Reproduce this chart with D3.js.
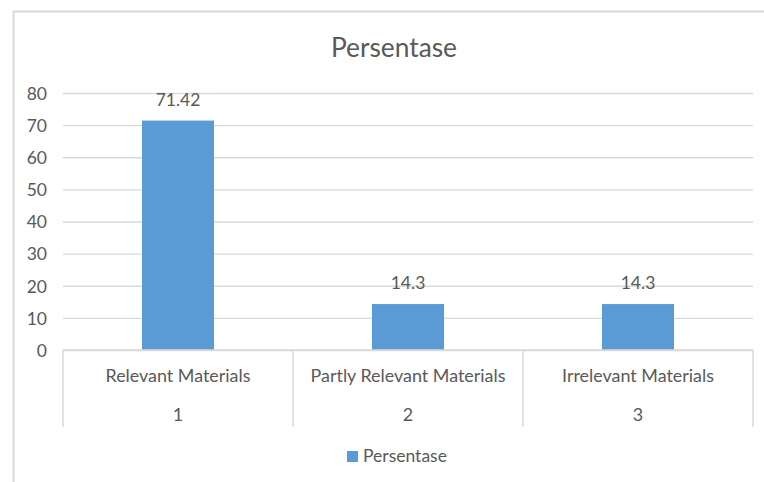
<!DOCTYPE html>
<html><head><meta charset="utf-8">
<script src="https://cdn.jsdelivr.net/npm/d3@7"></script>
<style>body{margin:0;background:#fff}svg{display:block}text{font-family:Lato,"Open Sans",sans-serif;fill:#595959}</style>
</head><body>
<svg id="c" width="764" height="482"></svg>
<script>
const categories = ["Relevant Materials","Partly Relevant Materials","Irrelevant Materials"];
const categoryNumbers = ["1","2","3"];
const values = [71.42, 14.3, 14.3];
const valueLabels = ["71.42","14.3","14.3"];
const yTicks = [0,10,20,30,40,50,60,70,80];
const seriesName = "Persentase";
const title = "Persentase";

const svg = d3.select("#c");
const grid = "#d9d9d9", barColor = "#5b9bd5";
const L = 63, R = 753, T = 93, B = 350;

// border
svg.append("rect").attr("x",13.5).attr("y",11.5).attr("width",800).attr("height",600)
  .attr("fill","none").attr("stroke",grid).attr("stroke-width",2);

const y = d3.scaleLinear().domain([0,80]).range([B,T]);
const x = d3.scaleBand().domain(categories).range([L,R]).padding(0);
const barW = x.bandwidth()*72/230;

function fit(sel, target){
  const n = sel.node(); let fs = parseFloat(sel.attr("font-size"));
  const w = n.getComputedTextLength(); if (w>0) sel.attr("font-size", fs*target/w);
}

// gridlines
const gy = svg.append("g").attr("transform",`translate(${L},0)`)
  .call(d3.axisLeft(y).tickValues(yTicks).tickSize(-(R-L)).tickFormat(""));
gy.select(".domain").remove();
gy.selectAll(".tick line").attr("stroke",grid).attr("stroke-width",1.3);

// y tick labels
const yl = svg.append("g").attr("transform",`translate(47,0)`)
  .call(d3.axisLeft(y).tickValues(yTicks).tickSize(0).tickPadding(0));
yl.select(".domain").remove();
yl.selectAll("text").attr("font-size",17.5).attr("fill","#595959").attr("dy","0.36em")
  .style("font-family","Lato,'Open Sans',sans-serif");

// bars
svg.append("g").selectAll("rect").data(values).join("rect")
  .attr("x",(d,i)=>x(categories[i])+(x.bandwidth()-barW)/2)
  .attr("width",barW)
  .attr("y",d=>y(d)).attr("height",d=>y(0)-y(d))
  .attr("fill",barColor);

// value labels
svg.append("g").selectAll("text").data(values).join("text")
  .attr("x",(d,i)=>x(categories[i])+x.bandwidth()/2)
  .attr("y",d=>y(d)-15)
  .attr("text-anchor","middle").attr("font-size",17.5)
  .text((d,i)=>valueLabels[i]);

// category axis
svg.append("line").attr("x1",L).attr("x2",R).attr("y1",B).attr("y2",B).attr("stroke",grid).attr("stroke-width",1.5);
const seps = categories.map(c=>x(c)).concat([x(categories[categories.length-1])+x.bandwidth()]);
svg.append("g").selectAll("line").data(seps).join("line")
  .attr("x1",d=>d).attr("x2",d=>d).attr("y1",B).attr("y2",427)
  .attr("stroke",grid).attr("stroke-width",1.5);

svg.append("g").selectAll("text").data(categories).join("text")
  .attr("x",d=>x(d)+x.bandwidth()/2).attr("y",382)
  .attr("text-anchor","middle").attr("font-size",17.9).text(d=>d);
svg.append("g").selectAll("text").data(categoryNumbers).join("text")
  .attr("x",(d,i)=>x(categories[i])+x.bandwidth()/2).attr("y",421)
  .attr("text-anchor","middle").attr("font-size",17.9).text(d=>d);

// title
const tt = svg.append("text").attr("x",394).attr("y",57).attr("text-anchor","middle")
  .attr("font-size",24).text(title);
fit(tt,126);

// legend
svg.append("rect").attr("x",347).attr("y",451).attr("width",11).attr("height",11).attr("fill",barColor);
const lt = svg.append("text").attr("x",363).attr("y",462).attr("font-size",17.5).text(seriesName);
fit(lt,84);
</script>
</body></html>
